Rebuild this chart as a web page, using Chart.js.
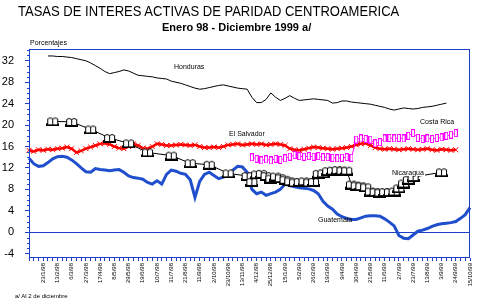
<!DOCTYPE html>
<html lang="es">
<head>
  <meta charset="UTF-8">
  <title>Tasas de interes activas de paridad Centroamerica</title>
  <script src="https://cdn.jsdelivr.net/npm/chart.js"></script>
  <style>
    body {
      margin: 0;
      background: #fff;
      font-family: Arial, "Liberation Sans", sans-serif;
    }
    #wrap {
      position: relative;
      width: 491px;
      height: 302px;
      overflow: hidden;
    }
    #chart {
      position: absolute;
      left: 0;
      top: 0;
    }
    .txt {
      position: absolute;
      white-space: nowrap;
      line-height: 1;
      color: #000;
    }
    #title {
      left: 18px;
      top: 4px;
      font-size: 14px;
      transform: scaleX(0.93);
      transform-origin: left top;
    }
    #subtitle {
      left: 162px;
      top: 22px;
      font-size: 11px;
      font-weight: bold;
    }
    #units { left: 30px; top: 39px; font-size: 7px; }
    #note { left: 15px; top: 293px; font-size: 6px; }
    .lbl { font-size: 7px; padding: 0 1px; }
    .bg { background: #fff; }
  </style>
</head>
<body>
  <div id="wrap">
    <canvas id="chart" width="491" height="302"></canvas>
    <div class="txt" id="title">TASAS DE INTERES ACTIVAS DE PARIDAD CENTROAMERICA</div>
    <div class="txt" id="subtitle">Enero 98 - Diciembre 1999 a/</div>
    <div class="txt" id="units">Porcentajes</div>
    <div class="txt" id="note">a/ Al 2 de diciembre</div>
    <div class="txt lbl" style="left:173px; top:63px;">Honduras</div>
    <div class="txt lbl" style="left:228px; top:130px;">El Salvador</div>
    <div class="txt lbl" style="left:419px; top:118px;">Costa Rica</div>
    <div class="txt lbl bg" style="left:391px; top:169px;">Nicaragua</div>
    <div class="txt lbl" style="left:317px; top:216px;">Guatemala</div>
  </div>

  <script>
    // fechas (semanales) que llevan etiqueta en el eje x, una cada 3 semanas
    const tickLabels = [
      '23/1/98', '13/2/98', '6/3/98', '27/3/98', '17/4/98', '8/5/98', '29/5/98', '19/6/98',
      '10/7/98', '31/7/98', '21/8/98', '11/9/98', '2/10/98', '23/10/98', '13/11/98', '4/12/98',
      '25/12/98', '15/1/99', '5/2/99', '26/2/99', '19/3/99', '9/4/99', '30/4/99', '21/5/99',
      '11/6/99', '2/7/99', '23/7/99', '13/8/99', '3/9/99', '24/9/99', '15/10/99'
    ];
    const yTicks = [-4, 0, 4, 8, 12, 16, 20, 24, 28, 32];

    const guatemala = [
      13.8, 12.8, 12.3, 12.4, 13.0, 13.7, 14.1, 14.2, 14.0, 13.5,
      12.8, 12.0, 11.3, 11.2, 11.9, 11.7, 11.6, 11.5, 11.6, 11.7,
      11.2, 10.5, 10.2, 10.1, 9.9, 9.3, 9.0, 9.6, 9.0, 10.8,
      11.6, 11.4, 11.0, 10.8, 9.8, 6.5, 9.5, 10.8, 11.2, 10.6,
      10.0, 10.3, 10.8, 11.6, 12.3, 12.2, 11.2, 8.0, 7.2, 7.5,
      6.9, 7.2, 7.5, 8.0, 9.0, 8.7, 8.5, 8.3, 8.2, 8.1,
      7.8, 7.2, 5.8, 4.9, 4.3, 3.4, 2.9, 2.6, 2.4, 2.4,
      2.7, 3.0, 3.1, 3.1, 3.0, 2.5, 1.9, 1.2, -0.6, -1.1,
      -1.2, -0.5, 0.2, 0.4, 0.7, 1.1, 1.4, 1.6, 1.7, 1.8,
      2.0, 2.6, 3.3, 4.6
    ];

    const honduras = [
      null, null, null, null, 32.9, 32.9, 32.8, 32.8, 32.7, 32.6,
      32.4, 32.2, 32.0, 31.6, 31.1, 30.6, 30.0, 29.6, 29.8, 30.0,
      30.3, 30.1, 29.7, 29.3, 29.2, 29.1, 29.0, 28.8, 28.7, 28.6,
      28.2, 28.0, 27.8, 27.5, 27.2, 26.9, 26.7, 26.8, 27.0, 27.2,
      27.4, 27.5, 27.3, 27.1, 26.9, 26.8, 26.7, 25.2, 24.2, 24.2,
      24.8, 26.0, 25.2, 24.6, 25.0, 25.5, 25.0, 24.6, 24.7, 24.8,
      24.9, 24.8, 24.7, 24.6, 24.1, 24.2, 24.5, 24.5, 24.3, 24.2,
      24.1, 24.0, 23.9, 23.7, 23.5, 23.3, 23.0, 22.8, 23.0, 23.2,
      23.1, 23.0, 23.1, 23.3, 23.4, 23.5, 23.7, 23.9, 24.1, null,
      null, null, null, null
    ];

    const elSalvador = [
      15.3, 15.1, 15.4, 15.3, 15.5, 15.4, 15.6, 15.7, 15.9, 15.6,
      14.9, 15.2, 15.6, 15.9, 16.2, 16.5, 16.6, 16.4, 16.0, 15.7,
      15.6, 16.0, 16.5, 16.2, 15.7, 15.6, 16.0, 16.5, 16.4, 16.2,
      16.2, 16.3, 16.4, 16.3, 16.2, 16.3, 16.0, 15.8, 15.8, 15.9,
      15.8, 16.0, 16.3, 16.4, 16.5, 16.3, 16.4, 16.5, 16.4, 16.5,
      16.3, 16.4, 16.5, 16.4, 16.2, 15.6, 15.4, 15.3, 15.5, 15.7,
      15.9, 15.8, 15.7, 15.6, 15.5, 15.6, 15.7, 15.8, 16.0, 16.3,
      16.5, 16.6, 16.2, 15.8, 15.6, 15.5, 15.6, 15.5, 15.4, 15.5,
      15.6, 15.5, 15.4, 15.5, 15.6, 15.4, 15.3, 15.5, 15.4, 15.3,
      15.4, null, null, null
    ];

    const costaRica = [
      null, null, null, null, null, null, null, null, null, null,
      null, null, null, null, null, null, null, null, null, null,
      null, null, null, null, null, null, null, null, null, null,
      null, null, null, null, null, null, null, null, null, null,
      null, null, null, null, null, null, null, 14.0, 13.7, 13.4,
      13.6, 13.4, 13.7, 13.5, 13.8, 14.1, 14.4, 14.2, 14.1, 14.2,
      14.1, 14.2, 14.0, 14.0, 13.9, 13.8, 13.9, 14.0, 13.9, 17.3,
      17.5, 17.4, 17.3, 16.6, 16.8, 17.5, 17.6, 17.5, 17.6, 17.5,
      18.0, 18.5, 17.6, 17.4, 17.5, 17.4, 17.6, 17.7, 18.0, 18.2,
      18.5, null, null, null
    ];

    const nicaragua = [
      null, null, null, null, null, 20.7, null, null, null, 20.6,
      null, null, null, 19.2, null, null, null, 17.6, null, null,
      null, 16.6, null, null, null, 14.9, null, null, null, null,
      14.3, null, null, null, 12.9, null, null, null, 12.6, null,
      null, null, 11.0, null, null, null, 10.5, 9.4, 10.8, 10.9,
      10.5, 10.0, 10.4, 10.1, 9.8, 9.5, 9.3, 9.4, 9.5, 9.3,
      9.4, 10.9, 11.0, 11.4, 11.5, 11.6, 11.5, 11.5, 8.9, 8.7,
      8.6, 8.4, 7.6, 7.5, 7.4, 7.5, 7.5, 7.6, 8.2, 9.1,
      9.8, 10.3, null, null, null, null, null, 11.2, null, null,
      null, null, null, null
    ];

    // una etiqueta cada 3 semanas, a partir de la cuarta
    const weekLabels = guatemala.map((v, i) => (i > 0 && i % 3 === 0) ? tickLabels[i / 3 - 1] : '');

    const blue = '#1a3fc8';

    // marcadores dibujados a mano
    const bookMark = document.createElement('canvas');
    bookMark.width = 13; bookMark.height = 10;
    (function () {
      const c = bookMark.getContext('2d');
      c.fillStyle = '#000';
      c.fillRect(0, 7, 13, 3);
      c.fillStyle = '#fff';
      c.strokeStyle = '#000';
      c.lineWidth = 1;
      [1.5, 6.5].forEach(x0 => {
        c.beginPath();
        c.moveTo(x0, 8.5);
        c.lineTo(x0, 2.5);
        c.quadraticCurveTo(x0 + 2.5, 0.5, x0 + 5, 2.5);
        c.lineTo(x0 + 5, 8.5);
        c.closePath();
        c.fill();
        c.stroke();
      });
    })();

    const rectMark = document.createElement('canvas');
    rectMark.width = 4; rectMark.height = 8;
    (function () {
      const c = rectMark.getContext('2d');
      c.fillStyle = '#fff';
      c.fillRect(0, 0, 4, 8);
      c.strokeStyle = '#ff00ff';
      c.lineWidth = 1;
      c.strokeRect(0.5, 0.5, 3, 7);
    })();

    const framePlugin = {
      id: 'frame',
      afterDraw(chart) {
        const { ctx, chartArea: a, scales: { y } } = chart;
        ctx.save();
        ctx.strokeStyle = blue;
        ctx.lineWidth = 1;
        // marcas menores del eje y
        ctx.beginPath();
        for (let v = -4; v <= 34; v++) {
          if (v % 4 === 0) continue;
          const py = Math.round(y.getPixelForValue(v)) + 0.5;
          ctx.moveTo(a.left - 2, py);
          ctx.lineTo(a.left, py);
        }
        ctx.stroke();
        ctx.strokeRect(a.left + 0.5, a.top + 0.5, a.right - a.left - 1, a.bottom - a.top - 1);
        ctx.restore();
      }
    };

    new Chart(document.getElementById('chart'), {
      type: 'line',
      data: {
        labels: weekLabels,
        datasets: [
          {
            label: 'Nicaragua', data: nicaragua, borderColor: '#000', borderWidth: 1,
            pointStyle: bookMark, pointRadius: 5, spanGaps: true, order: 1
          },
          {
            label: 'Costa Rica', data: costaRica, borderColor: '#ff00ff', borderWidth: 1,
            pointStyle: rectMark, pointRadius: 4, order: 2
          },
          {
            label: 'El Salvador', data: elSalvador, borderColor: '#ff0000', borderWidth: 2.5,
            pointStyle: 'crossRot', pointRadius: 3.5, pointBorderWidth: 1, pointBorderColor: '#ff0000', order: 3
          },
          {
            label: 'Honduras', data: honduras, borderColor: '#000', borderWidth: 1,
            pointRadius: 0, order: 4
          },
          {
            label: 'Guatemala', data: guatemala, borderColor: '#1f4fcc', borderWidth: 3,
            pointRadius: 0, order: 5
          }
        ]
      },
      options: {
        responsive: false,
        animation: false,
        devicePixelRatio: 1,
        layout: { padding: { top: 49, right: 21, left: 0, bottom: 0 } },
        plugins: {
          legend: { display: false },
          tooltip: { enabled: false }
        },
        elements: { line: { tension: 0 } },
        scales: {
          x: {
            offset: false,
            afterFit(s) { s.height = 44; },
            border: { display: false },
            grid: { drawOnChartArea: false, color: blue, tickLength: 3 },
            ticks: {
              autoSkip: false, maxRotation: 90, minRotation: 90, padding: 2,
              color: '#000', font: { family: 'Arial, "Liberation Sans"', size: 6 }
            }
          },
          y: {
            min: -4.8,
            max: 34.2,
            afterFit(s) { s.width = 29; },
            afterBuildTicks(s) { s.ticks = yTicks.map(v => ({ value: v })); },
            border: { display: false },
            grid: {
              color: c => (c.tick && c.tick.value === 0) ? blue : 'rgba(0,0,0,0)',
              tickColor: blue,
              tickLength: 4
            },
            ticks: {
              padding: 11, color: '#000',
              font: { family: 'Arial, "Liberation Sans"', size: 11 }
            }
          }
        }
      },
      plugins: [framePlugin]
    });
  </script>
</body>
</html>
